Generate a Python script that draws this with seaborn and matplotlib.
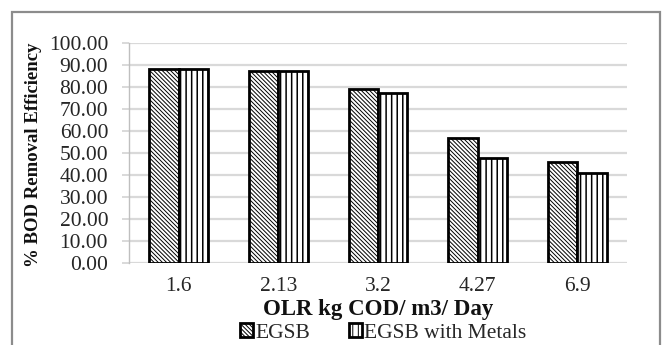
import matplotlib
matplotlib.use("Agg")
import matplotlib.pyplot as plt
import seaborn as sns
import pandas as pd
from matplotlib.patches import Rectangle

categories = ["1.6", "2.13", "3.2", "4.27", "6.9"]
egsb = [88.3, 87.2, 79.2, 57.0, 45.8]
egsb_metals = [88.3, 87.2, 77.5, 47.7, 40.9]
series_names = ["EGSB", "EGSB with Metals"]
yticks = [0, 10, 20, 30, 40, 50, 60, 70, 80, 90, 100]

df = pd.DataFrame({
    "OLR": categories * 2,
    "value": egsb + egsb_metals,
    "series": [series_names[0]] * len(categories) + [series_names[1]] * len(categories),
})

sns.set_style("white")
plt.rcParams["font.family"] = ["Liberation Serif", "DejaVu Serif"]
plt.rcParams["hatch.linewidth"] = 0.7

fig = plt.figure(figsize=(6.68, 3.45), dpi=100)
# outer frame
fig.patches.append(Rectangle((12 / 668, -0.05), (660 - 12) / 668, 1 - 12 / 345 + 0.05,
                             transform=fig.transFigure, fill=False,
                             edgecolor="#8c8c8c", linewidth=1.6, zorder=0))

ax = fig.add_axes([129 / 668, 1 - 263 / 345, (627 - 129) / 668, (263 - 43) / 345])

sns.barplot(data=df, x="OLR", y="value", hue="series", order=categories,
            hue_order=series_names, palette=["white", "white"], width=0.59,
            edgecolor="black", linewidth=2.0, saturation=1, ax=ax, legend=True)

hatches = ["\\" * 8, "|" * 3]
hatch_lw = [0.7, 1.1]
for cont, h, hl in zip(ax.containers, hatches, hatch_lw):
    for p in cont:
        p.set_hatch(h)
        if hasattr(p, "set_hatch_linewidth"):
            p.set_hatch_linewidth(hl)
        p.set_edgecolor("black")
        p.set_zorder(3)

ax.set_ylim(0, 100)
ax.set_yticks(yticks)
ax.set_yticklabels([f"{v:.2f}" for v in yticks])
ax.yaxis.grid(True, color="#d9d9d9", linewidth=1.6, zorder=0)
ax.set_axisbelow(True)

for s in ["top", "right", "bottom"]:
    ax.spines[s].set_visible(False)
ax.spines["left"].set_color("#bfbfbf")
ax.spines["left"].set_linewidth(1.0)

ax.tick_params(axis="y", which="both", left=True, length=5, width=1.4, color="#d9d9d9",
               pad=10, labelsize=15.5, labelcolor="#262626")
ax.tick_params(axis="x", length=0, pad=10, labelsize=15.5, labelcolor="#262626")

ax.set_xlabel("OLR kg COD/ m3/ Day", fontsize=16.5, fontweight="bold", color="#111111")
ax.set_ylabel("% BOD Removal Efficiency", fontsize=13.5, fontweight="bold", color="#111111")
ax.xaxis.set_label_coords(0.5, -0.165)
ax.yaxis.set_label_coords(-0.174, 0.49)

handles, labels = ax.get_legend_handles_labels()
ax.get_legend().remove()
for hnd, h, hl in zip(handles, hatches, hatch_lw):
    hnd.set_hatch(h)
    if hasattr(hnd, "set_hatch_linewidth"):
        hnd.set_hatch_linewidth(hl)
    hnd.set_edgecolor("black")
    hnd.set_linewidth(2.0)
fig.legend(handles, labels, loc="center", bbox_to_anchor=(383 / 668, 1 - 333 / 345),
           ncol=2, frameon=False, fontsize=15.5, handlelength=0.6, handleheight=0.6,
           handletextpad=0.1, columnspacing=1.8, borderpad=0, labelcolor="#262626")

fig.savefig("out.png", dpi=100)
